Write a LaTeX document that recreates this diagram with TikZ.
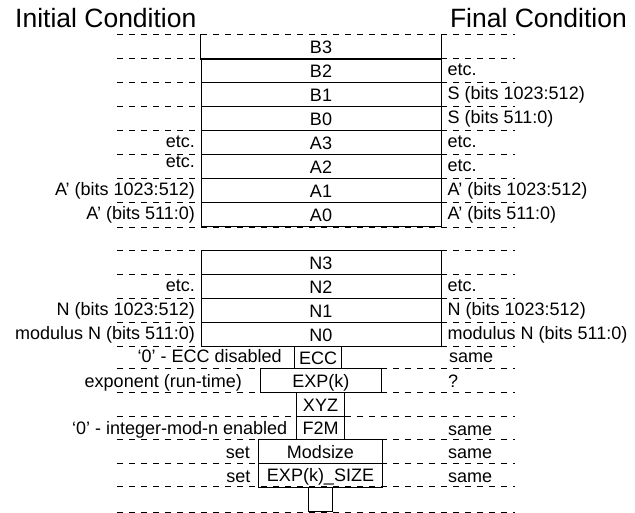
\documentclass[tikz,border=0pt]{standalone}
\usepackage{fontspec}
\setmainfont{Liberation Sans}
\newcommand\smallfs{\fontsize{18}{21}\selectfont}
\newcommand\headfs{\fontsize{26.5}{30}\selectfont}
\begin{document}
\begin{tikzpicture}[x=1pt,y=-1pt,
  boxline/.style={line width=0.9pt},
  cell/.style={boxline, draw, minimum width=240pt, minimum height=24pt, inner sep=0pt,
    text height=13pt, text depth=0pt, font=\smallfs},
  cellnd/.style={cell, draw=none},
  guide/.style={line width=0.8pt, dash pattern=on 6pt off 6pt},
  lab/.style={inner sep=0pt, font=\smallfs},
  llab/.style={lab, anchor=base east},
  rlab/.style={lab, anchor=base west},
  head/.style={inner sep=0pt, font=\headfs}]
\useasboundingbox (0,0) rectangle (635,512);
\coordinate (L) at (117,0);
\coordinate (R) at (515,0);
% headers
\node[head, anchor=base west] (init) at (15,27) {Initial Condition};
\node[head, anchor=base east] (final) at (627,27) {Final Condition};
% main column
\node[cellnd] (B3) at (321,46.5) {B3};
\node[cell] (B2) at (321,70.5) {B2};
\node[cell] (B1) at (321,94.5) {B1};
\node[cell] (B0) at (321,118.5) {B0};
\node[cell] (A3) at (321,142.5) {A3};
\node[cell] (A2) at (321,166.5) {A2};
\node[cell] (A1) at (321,190.5) {A1};
\node[cell] (A0) at (321,214.5) {A0};
\draw[boxline] (B3.north west) -- (B3.south west) -- (B3.south east) -- (B3.north east);
\node[cell] (N3) at (321,262.5) {N3};
\node[cell] (N2) at (321,286.5) {N2};
\node[cell] (N1) at (321,310.5) {N1};
\node[cell] (N0) at (321,334.5) {N0};
% small boxes
\node[cell, minimum width=47.4pt, minimum height=22pt] (ECC) at (318,357.5) {ECC};
\node[cell, minimum width=120.3pt, minimum height=24pt] (EXP) at (320.85,380.5) {EXP(k)};
\node[cell, minimum width=47.6pt, minimum height=24pt] (XYZ) at (320.5,404.5) {XYZ};
\node[cell, minimum width=47.6pt, minimum height=23pt] (F2M) at (320.5,428) {F2M};
\node[cell, minimum width=124.4pt, minimum height=24pt] (MOD) at (320.5,451.5) {Modsize};
\node[cell, minimum width=124.4pt, minimum height=23.5pt] (SIZE) at (320.5,475.25) {EXP(k)\_SIZE};
\node[cell, minimum width=24pt, minimum height=24.5pt] (BOT) at (320.7,499.25) {};
% dashed guide lines
\foreach \n in {B3,B2,B1,B0,A3,A2,A1,A0,N3,N2,N1,N0,ECC,EXP,XYZ,F2M,MOD,SIZE,BOT}
  \draw[guide] (L |- \n.north) -- (R |- \n.north);
\foreach \n in {A0,BOT}
  \draw[guide] (L |- \n.south) -- (R |- \n.south);
% left labels
\node[llab] (lA3) at (195,147) {etc.};
\node[llab] (lA2) at (195,167.5) {etc.};
\node[llab] (lA1) at (195,195) {A’ (bits 1023:512)};
\node[llab] (lA0) at (195,219) {A’ (bits 511:0)};
\node[llab] (lN2) at (195,291) {etc.};
\node[llab] (lN1) at (195,315) {N (bits 1023:512)};
\node[llab] (lN0) at (195,339) {modulus N (bits 511:0)};
\node[llab] (lECC) at (282,362.5) {‘0’ - ECC disabled};
\node[llab] (lEXP) at (242,387) {exponent (run-time)};
\node[llab] (lF2M) at (287.5,434.5) {‘0’ - integer-mod-n enabled};
\node[llab] (lMOD) at (250,458) {set};
\node[llab] (lSIZE) at (250.5,482) {set};
% right labels
\node[rlab] (rB2) at (447.5,75) {etc.};
\node[rlab] (rB1) at (447.5,99) {S (bits 1023:512)};
\node[rlab] (rB0) at (447.5,123) {S (bits 511:0)};
\node[rlab] (rA3) at (447.5,147) {etc.};
\node[rlab] (rA2) at (447.5,171) {etc.};
\node[rlab] (rA1) at (447.5,195) {A’ (bits 1023:512)};
\node[rlab] (rA0) at (447.5,219) {A’ (bits 511:0)};
\node[rlab] (rN2) at (447.5,291) {etc.};
\node[rlab] (rN1) at (447.5,315) {N (bits 1023:512)};
\node[rlab] (rN0) at (447.5,339) {modulus N (bits 511:0)};
\node[rlab] (rECC) at (449,362) {same};
\node[rlab] (rEXP) at (448,387) {?};
\node[rlab] (rF2M) at (448,435) {same};
\node[rlab] (rMOD) at (448,458) {same};
\node[rlab] (rSIZE) at (448,482) {same};
\end{tikzpicture}
\end{document}
